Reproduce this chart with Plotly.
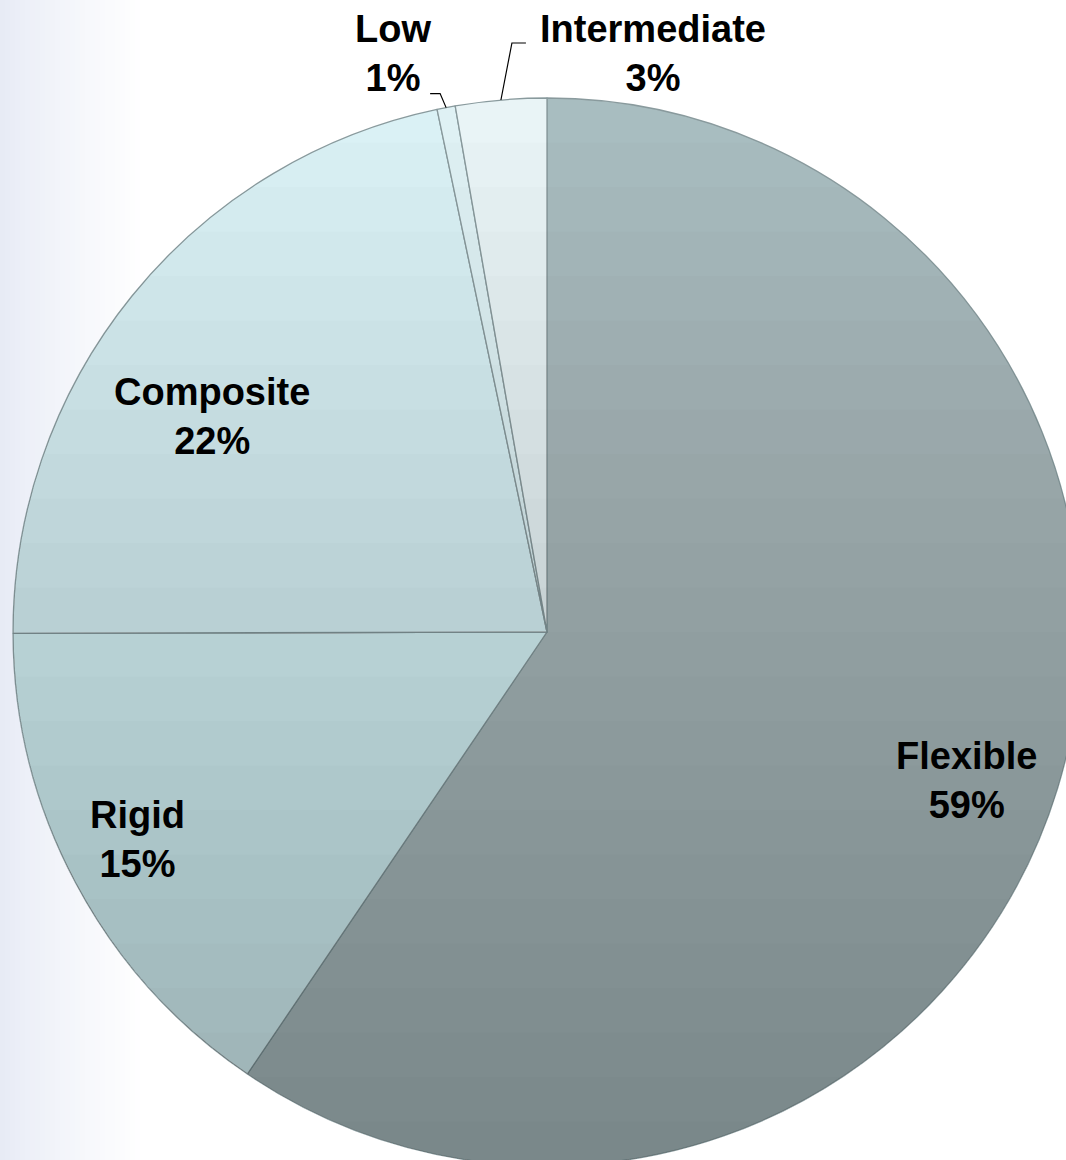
import math
import plotly.graph_objects as go

# ---- data ----
labels = ["Flexible", "Rigid", "Composite", "Low", "Intermediate"]
values = [59.48, 15.48, 21.74, 0.55, 2.75]

# ---- style ----
colors = ["#abc0c3", "#def8fb", "#ddf4f8", "#e2f4f7", "#ecf7f9"]
label_r = [0.835, 0.859, 0.746, 1.121, 1.102]        # radial factor of label centre
label_dtheta = [2.4, 1.1, -6.3, -4.0, 15.3]          # angular nudge (deg)
leader_offsets = {"Low": [(-6, -14), (-16, -14)],
                  "Intermediate": [(11, -57), (25, -57)]}

W, H = 1100, 1200
CX, CY, R = 547, 632, 534
FONT = "Liberation Sans, Arial, sans-serif"


def to_paper(px, py):
    return px / W, 1 - py / H


def polar_px(theta_deg, rf):
    t = math.radians(theta_deg)
    return CX + rf * R * math.sin(t), CY - rf * R * math.cos(t)


total = sum(values)
cum = 0.0
mids = []
for v in values:
    start = cum / total * 360
    cum += v
    end = cum / total * 360
    mids.append((start + end) / 2)

fig = go.Figure()
fig.add_trace(go.Pie(
    labels=labels, values=values, sort=False, direction="clockwise", rotation=0,
    marker=dict(colors=colors, line=dict(color="#8a9b9e", width=1.3)),
    textinfo="none", hoverinfo="label+percent", showlegend=False,
    domain=dict(x=[(CX - R) / W, (CX + R) / W],
                y=[1 - (CY + R) / H, 1 - (CY - R) / H]),
))

shapes = []
# left background gradient
c0 = (230, 234, 245)
step = 5
for x in range(0, 150, step):
    t = min(1.0, (x + step / 2) / 145) ** 0.8
    c = tuple(int(round(a + (255 - a) * t)) for a in c0)
    shapes.append(dict(type="rect", xref="paper", yref="paper", layer="below",
                       x0=x / W, x1=(x + step) / W, y0=0, y1=1,
                       fillcolor="rgb(%d,%d,%d)" % c, line=dict(width=0)))

# vertical darkening overlay on the pie (stacked translucent layers)
N = 24
AMAX = 0.23
a = 1 - (1 - AMAX) ** (1 / N)
top = CY - R
for k in range(N):
    yk = top + k * (2 * R) / N
    c = max(-1.0, min(1.0, (CY - yk) / R))
    t0 = math.degrees(math.acos(c))
    pts = []
    M = 160
    for i in range(M + 1):
        th = t0 + (360 - 2 * t0) * i / M
        px, py = polar_px(th, 1.0)
        pts.append(to_paper(px, py))
    path = "M " + " L ".join("%.6f,%.6f" % p for p in pts) + " Z"
    shapes.append(dict(type="path", xref="paper", yref="paper", layer="above",
                       path=path, fillcolor="rgba(0,0,0,%.5f)" % a,
                       line=dict(width=0)))

# leader lines for outside labels
for lab, m in zip(labels, mids):
    if lab in leader_offsets:
        ex, ey = polar_px(m, 1.0)
        pts = [(ex, ey)] + [(ex + dx, ey + dy) for dx, dy in leader_offsets[lab]]
        pp = [to_paper(*p) for p in pts]
        path = "M " + " L ".join("%.6f,%.6f" % p for p in pp)
        shapes.append(dict(type="path", xref="paper", yref="paper", layer="above",
                           path=path, line=dict(color="black", width=1.2)))

annotations = []
for lab, v, m, rf, dt in zip(labels, values, mids, label_r, label_dtheta):
    px, py = polar_px(m + dt, rf)
    xp, yp = to_paper(px, py)
    pct = int(round(100 * v / total))
    annotations.append(dict(
        x=xp, y=yp, xref="paper", yref="paper", showarrow=False,
        xanchor="center", yanchor="middle", align="center",
        text="<b>%s</b><br><b>%d%%</b>" % (lab, pct),
        font=dict(family=FONT, size=38, color="black"),
    ))

fig.update_layout(
    width=W, height=H, margin=dict(l=0, r=0, t=0, b=0),
    paper_bgcolor="white", plot_bgcolor="white",
    shapes=shapes, annotations=annotations,
)

fig.write_html("out.html",
               config={"displayModeBar": False},
               post_script="document.body.style.margin='0';"
                           "document.body.style.overflow='hidden';")
